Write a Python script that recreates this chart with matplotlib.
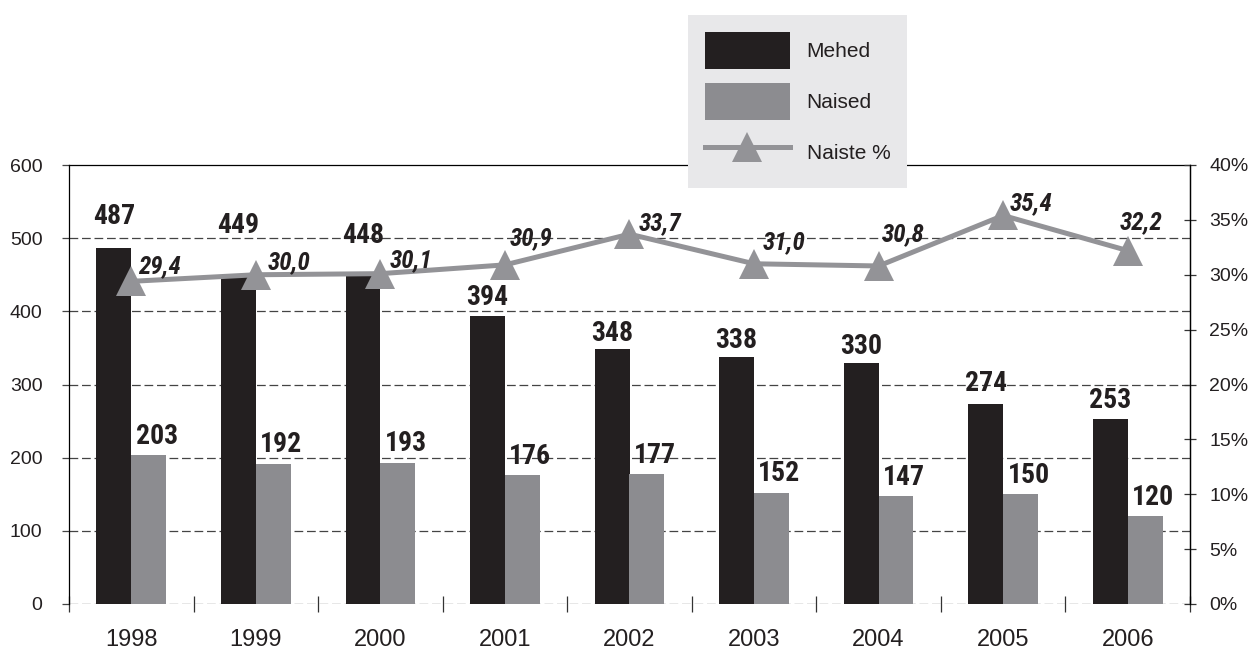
import numpy as np
import matplotlib
matplotlib.use("Agg")
import matplotlib.pyplot as plt
from matplotlib import font_manager as fm

# ---- data ----
years = ["1998", "1999", "2000", "2001", "2002", "2003", "2004", "2005", "2006"]
mehed = [487, 449, 448, 394, 348, 338, 330, 274, 253]
naised = [203, 192, 193, 176, 177, 152, 147, 150, 120]
naiste_pct = [29.4, 30.0, 30.1, 30.9, 33.7, 31.0, 30.8, 35.4, 32.2]
left_ticks = [0, 100, 200, 300, 400, 500, 600]
right_ticks = [0, 5, 10, 15, 20, 25, 30, 35, 40]
legend_labels = ["Mehed", "Naised", "Naiste %"]

# ---- style ----
def _w(v):
    if isinstance(v, str):
        return fm.weight_dict.get(v, 400)
    return v

ttf = fm.fontManager.ttflist
names = {f.name for f in ttf}
base = "Liberation Sans" if "Liberation Sans" in names else "DejaVu Sans"


def has_bold(name, italic=False):
    for f in ttf:
        if f.name == name and _w(f.weight) >= 600 and ((f.style != "normal") == italic):
            return True
    return False


narrow = base
narrow_it = base
cands = ["Liberation Sans Narrow", "Archivo Narrow", "Roboto Condensed", "Barlow Semi Condensed",
         "Asap Condensed", "Barlow Condensed", "Open Sans Condensed"]
for c in cands:
    if has_bold(c):
        narrow = c
        break
for c in cands:
    if has_bold(c, italic=True):
        narrow_it = c
        break

PX = 0.72  # points per pixel at dpi 100
C_BLACK = "#231f20"
C_GRAY = "#8c8c90"
C_LINE = "#939397"
C_GRID = "#444444"
C_TEXT = "#231f20"
m_off = [31, 50, 41, 18, 16, 16, 16, 20, 18]
n_off = (8, 19)
p_off = [(28, 15), (33, 13), (31, 13), (26, 27), (31, 11), (30, 22), (24, 32), (28, 12), (13, 28)]

fig = plt.figure(figsize=(12.49, 6.51), dpi=100)
W, H = 1249, 651
ax = fig.add_axes([69 / W, 1 - 604 / H, (1190 - 69) / W, (604 - 165) / H])
ax2 = ax.twinx()

x = np.arange(len(years))
bw = 0.28
b_m = ax.bar(x - bw / 2, mehed, bw, color=C_BLACK, zorder=2)
b_n = ax.bar(x + bw / 2, naised, bw, color=C_GRAY, zorder=2)

ax.set_xlim(-0.5, len(years) - 0.5)
ax.set_ylim(0, 600)
ax.set_yticks(left_ticks)
for yv in left_ticks[:-1]:
    ax.axhline(yv, color=C_GRID, lw=0.9, ls=(0, (7, 3)), zorder=1)

ax.set_xticks(x)
ax.set_xticklabels(years, fontsize=17, family=base, color=C_TEXT)
ax.set_xticks(np.arange(-0.5, len(years), 1), minor=True)
ax.tick_params(axis="x", which="major", length=0, pad=18)
ax.tick_params(axis="x", which="minor", direction="inout", length=16 * PX, width=0.9, color="#333333")
ax.tick_params(axis="y", direction="out", length=5, width=0.9, color=C_GRID, pad=14,
               labelsize=14, labelcolor=C_TEXT)
for lab in ax.get_yticklabels():
    lab.set_family(base)

for s in ["top", "left", "right"]:
    ax.spines[s].set_color("black")
    ax.spines[s].set_linewidth(0.9)
ax.spines["bottom"].set_visible(False)
for s in ["top", "left", "bottom"]:
    ax2.spines[s].set_visible(False)
ax2.spines["right"].set_color("black")
ax2.spines["right"].set_linewidth(0.9)

ax2.set_ylim(0, 40)
ax2.set_yticks(right_ticks)
ax2.set_yticklabels([f"{t}%" for t in right_ticks], family=base, fontsize=14, color=C_TEXT)
ax2.tick_params(axis="y", direction="inout", length=12 * PX, width=0.9, color="#333333", pad=9.5)

line, = ax2.plot(x, naiste_pct, color=C_LINE, lw=3.6, marker="^", ms=22, mew=0, zorder=3)

for xi, v, off in zip(x, mehed, m_off):
    ax.annotate(str(v), xy=(xi - bw / 2, v), xytext=(0, off * PX), textcoords="offset points",
                ha="center", va="center", fontsize=20, fontweight="bold", family=[narrow, base],
                color=C_TEXT, zorder=5)
for xi, v in zip(x, naised):
    ax.annotate(str(v), xy=(xi + bw / 2, v), xytext=(n_off[0] * PX, n_off[1] * PX),
                textcoords="offset points", ha="center", va="center", fontsize=20,
                fontweight="bold", family=[narrow, base], color=C_TEXT, zorder=5)
for xi, v, (dx, dy) in zip(x, naiste_pct, p_off):
    ax2.annotate(f"{v:.1f}".replace(".", ","), xy=(xi, v), xytext=(dx * PX, dy * PX),
                 textcoords="offset points", ha="center", va="center", fontsize=18,
                 fontweight="bold", fontstyle="italic", family=[narrow_it, base], color=C_TEXT,
                 zorder=5)

leg = ax2.legend([b_m, b_n, line], legend_labels, loc="upper left",
                 bbox_to_anchor=(688 / W, 1 - 15 / H), bbox_transform=fig.transFigure,
                 frameon=True, facecolor="#e8e8ea", edgecolor="none", framealpha=1,
                 fancybox=False, prop={"family": base, "size": 15}, handlelength=4.1,
                 handleheight=2.4, labelspacing=0.65, borderpad=0.8, handletextpad=0.8,
                 borderaxespad=0)
leg.set_zorder(10)
for t in leg.get_texts():
    t.set_color(C_TEXT)

fig.savefig("out.png", dpi=100)
